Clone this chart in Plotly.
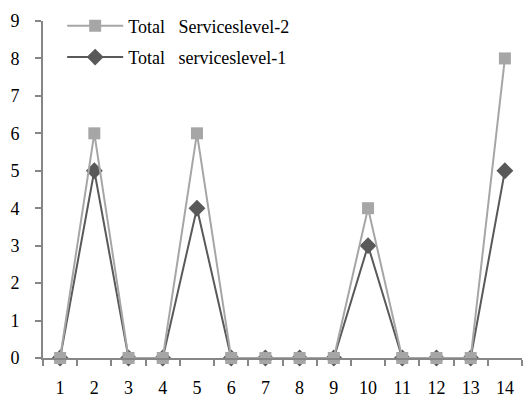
import plotly.graph_objects as go

categories = [str(i) for i in range(1, 15)]
level2 = [0, 6, 0, 0, 6, 0, 0, 0, 0, 4, 0, 0, 0, 8]
level1 = [0, 5, 0, 0, 4, 0, 0, 0, 0, 3, 0, 0, 0, 5]
y_ticks = list(range(0, 10))

NB = "\u00a0"
name2 = "Total" + NB * 3 + "Serviceslevel-2"
name1 = "Total" + NB * 3 + "serviceslevel-1"

font = dict(family="Liberation Serif, Times New Roman, serif", size=18, color="#000000")
axis_color = "#868686"

fig = go.Figure()
fig.add_trace(go.Scatter(
    x=categories, y=level1, name=name1, mode="lines+markers",
    legendgroup="b", legendrank=2, cliponaxis=False,
    line=dict(color="#595959", width=2),
    marker=dict(symbol="diamond", size=13, color="#595959"),
))
fig.add_trace(go.Scatter(
    x=categories, y=level2, name=name2, mode="lines+markers",
    legendgroup="a", legendrank=1, cliponaxis=False,
    line=dict(color="#A6A6A6", width=2),
    marker=dict(symbol="square", size=12, color="#A6A6A6"),
))

fig.update_layout(
    width=523, height=400,
    margin=dict(l=43, r=1, t=21, b=42, autoexpand=False),
    paper_bgcolor="white", plot_bgcolor="white",
    font=font,
    showlegend=True,
    legend=dict(
        x=0.04, y=1.04, xanchor="left", yanchor="top",
        traceorder="grouped", tracegroupgap=5, itemwidth=56,
        bgcolor="rgba(0,0,0,0)", font=font,
    ),
    xaxis=dict(
        type="category", range=[-0.5, 13.5], automargin=False,
        showline=True, linecolor=axis_color, linewidth=2,
        ticks="outside", tickson="boundaries", ticklen=6, tickcolor=axis_color, tickwidth=1.5,
        showgrid=False, zeroline=False, tickfont=font, ticklabelstandoff=12,
    ),
    yaxis=dict(
        range=[0, 9], tickvals=y_ticks, automargin=False,
        showline=True, linecolor=axis_color, linewidth=2,
        ticks="outside", ticklen=6, tickcolor=axis_color, tickwidth=1.5,
        showgrid=False, zeroline=False, tickfont=font, ticklabelstandoff=12,
    ),
)

fig.write_html("out.html")
